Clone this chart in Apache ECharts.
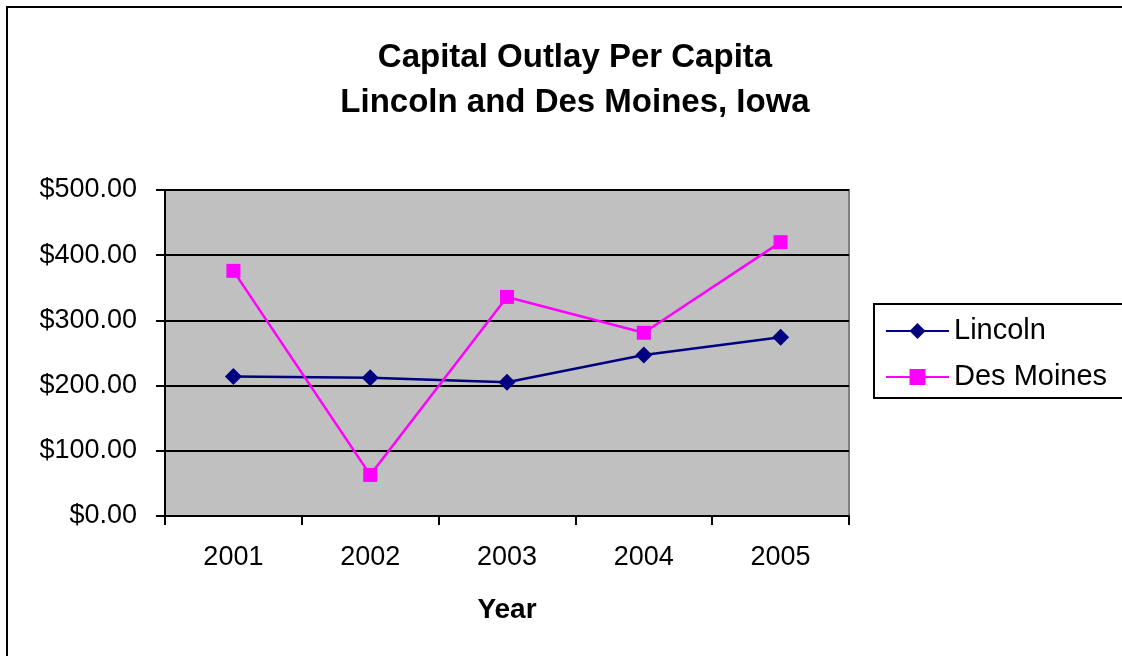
<!DOCTYPE html>
<html>
<head>
<meta charset="utf-8">
<script src="https://cdn.jsdelivr.net/npm/echarts@6/dist/echarts.min.js"></script>
<style>
  html, body { margin: 0; padding: 0; background: #fff; }
  #chart { width: 1122px; height: 656px; }
</style>
</head>
<body>
<div id="chart"></div>
<script>
// data
var years = ['2001', '2002', '2003', '2004', '2005'];
var lincoln = [214, 212, 205, 247, 274];
var desMoines = [376, 63, 336, 281, 420];
var yTicks = { min: 0, max: 500, interval: 100 };

var myChart = echarts.init(document.getElementById('chart'));
var font = 'Arial, "Liberation Sans", sans-serif';

var option = {
    backgroundColor: '#ffffff',
    animation: false,
    title: {
        text: 'Capital Outlay Per Capita\nLincoln and Des Moines, Iowa',
        left: 570,
        textAlign: 'center',
        top: 30,
        textStyle: {
            fontFamily: font,
            fontSize: 33,
            fontWeight: 'bold',
            color: '#000',
            lineHeight: 45
        }
    },
    legend: {
        orient: 'vertical',
        left: 874,
        top: 304,
        padding: [11, 40, 5, 11],
        itemGap: 14,
        itemWidth: 63,
        itemHeight: 20,
        borderColor: '#000',
        borderWidth: 2,
        textStyle: { fontFamily: font, fontSize: 29, color: '#000', lineHeight: 32 },
        data: ['Lincoln', 'Des Moines']
    },
    grid: {
        left: 165,
        top: 190,
        width: 684,
        height: 326,
        show: true,
        backgroundColor: '#C0C0C0',
        borderColor: '#808080',
        borderWidth: 2
    },
    xAxis: {
        type: 'category',
        data: years,
        boundaryGap: true,
        name: 'Year',
        nameLocation: 'middle',
        nameGap: 80,
        nameTextStyle: { fontFamily: font, fontSize: 28, fontWeight: 'bold', color: '#000' },
        axisLine: { lineStyle: { color: '#000', width: 2 } },
        axisTick: { show: true, length: 9, inside: false, lineStyle: { color: '#000', width: 2 } },
        axisLabel: { fontFamily: font, fontSize: 27, color: '#000', margin: 28 },
        splitLine: { show: false }
    },
    yAxis: {
        type: 'value',
        min: yTicks.min,
        max: yTicks.max,
        interval: yTicks.interval,
        axisLine: { show: true, lineStyle: { color: '#000', width: 2 } },
        axisTick: { show: true, length: 9, lineStyle: { color: '#000', width: 2 } },
        axisLabel: {
            fontFamily: font,
            fontSize: 27,
            color: '#000',
            margin: 28,
            formatter: function (v) { return '$' + v.toFixed(2); }
        },
        splitLine: { show: true, lineStyle: { color: '#000', width: 2 } }
    },
    series: [
        {
            name: 'Lincoln',
            type: 'line',
            data: lincoln,
            symbol: 'diamond',
            symbolSize: 17,
            lineStyle: { color: '#000080', width: 2.5 },
            itemStyle: { color: '#000080' }
        },
        {
            name: 'Des Moines',
            type: 'line',
            data: desMoines,
            symbol: 'rect',
            symbolSize: 14,
            lineStyle: { color: '#FF00FF', width: 2.5 },
            itemStyle: { color: '#FF00FF' }
        }
    ],
    graphic: [
        {
            type: 'rect',
            shape: { x: 7, y: 7, width: 1200, height: 700 },
            style: { fill: 'none', stroke: '#000', lineWidth: 2 },
            silent: true
        }
    ]
};
myChart.setOption(option);
</script>
</body>
</html>
